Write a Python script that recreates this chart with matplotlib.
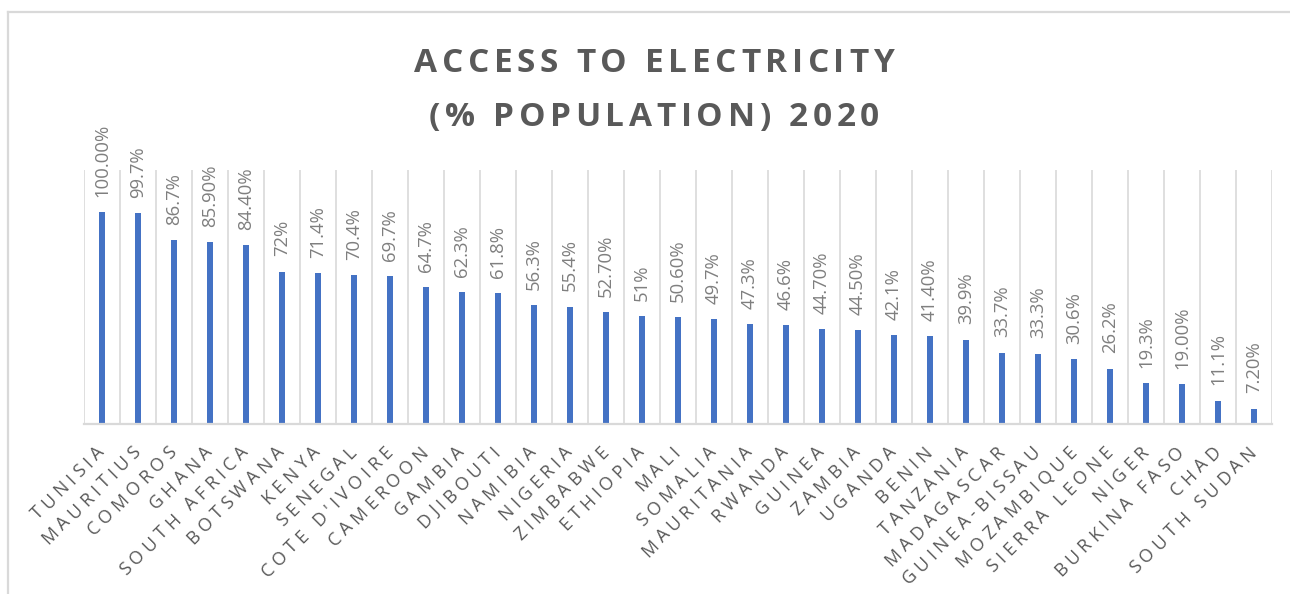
import matplotlib
matplotlib.use("Agg")
import matplotlib.pyplot as plt
from matplotlib.lines import Line2D
from matplotlib.transforms import ScaledTranslation
from matplotlib.font_manager import FontProperties, findfont, get_font

countries = ["TUNISIA", "MAURITIUS", "COMOROS", "GHANA", "SOUTH AFRICA", "BOTSWANA",
             "KENYA", "SENEGAL", "COTE D'IVOIRE", "CAMEROON", "GAMBIA", "DJIBOUTI",
             "NAMIBIA", "NIGERIA", "ZIMBABWE", "ETHIOPIA", "MALI", "SOMALIA",
             "MAURITANIA", "RWANDA", "GUINEA", "ZAMBIA", "UGANDA", "BENIN",
             "TANZANIA", "MADAGASCAR", "GUINEA-BISSAU", "MOZAMBIQUE", "SIERRA LEONE",
             "NIGER", "BURKINA FASO", "CHAD", "SOUTH SUDAN"]
values = [100.0, 99.7, 86.7, 85.9, 84.4, 72.0, 71.4, 70.4, 69.7, 64.7, 62.3, 61.8,
          56.3, 55.4, 52.7, 51.0, 50.6, 49.7, 47.3, 46.6, 44.7, 44.5, 42.1, 41.4,
          39.9, 33.7, 33.3, 30.6, 26.2, 19.3, 19.0, 11.1, 7.2]
value_labels = ["100.00%", "99.7%", "86.7%", "85.90%", "84.40%", "72%", "71.4%", "70.4%",
                "69.7%", "64.7%", "62.3%", "61.8%", "56.3%", "55.4%", "52.70%", "51%",
                "50.60%", "49.7%", "47.3%", "46.6%", "44.70%", "44.50%", "42.1%", "41.40%",
                "39.9%", "33.7%", "33.3%", "30.6%", "26.2%", "19.3%", "19.00%", "11.1%",
                "7.20%"]
title_lines = ["ACCESS TO ELECTRICITY", "(% POPULATION) 2020"]

W, H = 1290, 594
DPI = 100
fig = plt.figure(figsize=(W / DPI, H / DPI), dpi=DPI)
fig.patch.set_facecolor("white")


def advances(s, family, weight, size):
    prop = FontProperties(family=family, weight=weight, size=size)
    font = get_font(findfont(prop))
    font.set_size(size, DPI)
    return [font.load_char(ord(c)).linearHoriAdvance / 65536 for c in s]


# outer frame (top and left only, as in reference)
fig.add_artist(Line2D([7.5 / W, 7.5 / W], [0, 1 - 12 / H], transform=fig.transFigure,
                      color="#d9d9d9", lw=1.6))
fig.add_artist(Line2D([7.5 / W, 1], [1 - 12 / H, 1 - 12 / H], transform=fig.transFigure,
                      color="#d9d9d9", lw=1.6))

left, right, bottom, top = 84, 1272, 424, 170
ax = fig.add_axes([left / W, 1 - bottom / H, (right - left) / W, (bottom - top) / H])

n = len(countries)
x = list(range(n))
ax.bar(x, values, width=0.17, color="#4472C4", zorder=3)
ax.set_xlim(-0.5, n - 0.5)
ax.set_ylim(0, 120)

for i in range(n + 1):
    ax.axvline(i - 0.5, color="#d9d9d9", lw=1.2, zorder=1)

for s in ["top", "right", "left"]:
    ax.spines[s].set_visible(False)
ax.spines["bottom"].set_color("#d9d9d9")
ax.spines["bottom"].set_linewidth(1.6)
ax.spines["bottom"].set_zorder(4)
ax.set_yticks([])
ax.set_xticks([])

# letter-spaced category labels at 45 degrees
TICK_SIZE = 13
TICK_SP = 4.5
c45 = 0.70710678
for xi, name in zip(x, countries):
    adv = advances(name, "Open Sans", "normal", TICK_SIZE)
    total = sum(adv) + TICK_SP * (len(name) - 1)
    pos = 0.0
    for ch, a in zip(name, adv):
        back = total - pos
        dx = 3 - back * c45
        dy = -29 - back * c45
        tr = ax.get_xaxis_transform() + ScaledTranslation(dx / DPI, dy / DPI,
                                                          fig.dpi_scale_trans)
        if ch != " ":
            ax.text(xi, 0, ch, transform=tr, rotation=45, rotation_mode="anchor",
                    ha="left", va="baseline", fontsize=TICK_SIZE, color="#595959",
                    family="Open Sans", clip_on=False)
        pos += a + TICK_SP

for xi, v, lab in zip(x, values, value_labels):
    ax.annotate(lab, (xi, v), xytext=(0, 11), textcoords="offset points",
                rotation=90, ha="center", va="bottom", fontsize=13.3,
                color="#7f7f7f", family="Open Sans", annotation_clip=False)

# letter-spaced two-line title
TITLE_SIZE = 24
cx = 654
adv0 = advances(title_lines[0], "Open Sans", "bold", TITLE_SIZE)
title_sp = (480 - sum(adv0)) / (len(title_lines[0]) - 1)
for txt, base in zip(title_lines, [72, 126]):
    adv = advances(txt, "Open Sans", "bold", TITLE_SIZE)
    total = sum(adv) + title_sp * (len(txt) - 1)
    px = cx - total / 2
    for ch, a in zip(txt, adv):
        if ch != " ":
            fig.text(px / W, 1 - base / H, ch, ha="left", va="baseline",
                     fontsize=TITLE_SIZE, fontweight="bold", color="#595959",
                     family="Open Sans")
        px += a + title_sp

fig.savefig("out.png", dpi=DPI)
